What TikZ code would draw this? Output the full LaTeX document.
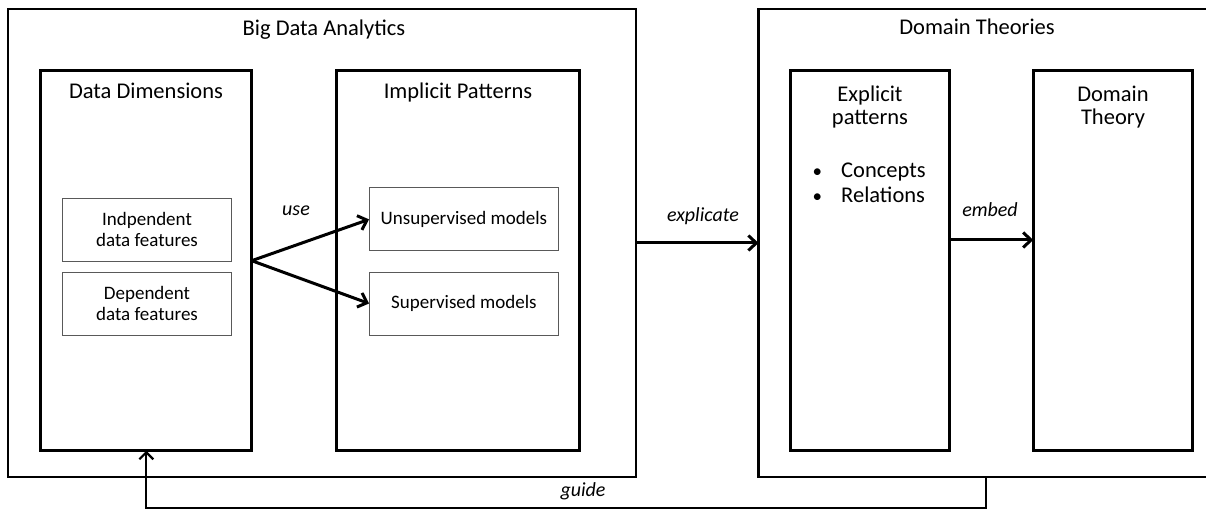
\documentclass[tikz,border=0pt]{standalone}
\usepackage{fontspec}
\setmainfont{Carlito}
\usetikzlibrary{arrows.meta,calc}
\begin{document}
\begin{tikzpicture}[x=1pt,y=-1pt,
  bigbox/.style={draw, line width=2.4pt, inner sep=0pt, outer sep=0pt},
  panel/.style={draw, line width=2.9pt, inner sep=0pt, outer sep=0pt, minimum height=380pt},
  smallbox/.style={draw=black!65, line width=0.9pt, inner sep=0pt, outer sep=0pt,
    minimum width=169.7pt, minimum height=63pt, align=center,
    font=\fontsize{19}{20.5}\selectfont},
  modelbox/.style={smallbox, minimum width=189.7pt},
  title/.style={inner sep=0pt, font=\fontsize{22.5}{25}\selectfont},
  bigtitle/.style={inner sep=0pt, align=center, font=\fontsize{22.5}{23.5}\selectfont},
  lbl/.style={inner sep=0pt, font=\fontsize{20}{22}\selectfont\itshape},
  flow/.style={line width=3pt, -{Straight Barb[length=8pt,width=15pt]}},
  back/.style={line width=2.2pt, -{Straight Barb[length=7pt,width=14pt]}}
]
\useasboundingbox (0,0) rectangle (1206,510);
\clip (0,0) rectangle (1206,510);
\fill[white] (0,0) rectangle (1206,510);

% outer boxes
\node[bigbox, minimum width=628pt, minimum height=468pt] (bda) at (322,243) {};
\node[bigbox, minimum width=480pt, minimum height=467.7pt, anchor=west] (dt) at (758.5,242.85) {};

% titles
\node[title, anchor=base] (bdat) at (324,36) {Big Data Analytics};
\node[title, anchor=base] (dtt) at (977,35) {Domain Theories};

% inner panels
\node[panel, minimum width=211pt] (dd) at (146.2,260.7) {};
\node[panel, minimum width=242.8pt] (ip) at (458.1,260.7) {};
\node[panel, minimum width=158.7pt] (ep) at (870,260.8) {};
\node[panel, minimum width=159.4pt] (dth) at (1113,260.8) {};

\node[title, anchor=base] (ddt) at (146,99) {Data Dimensions};
\node[title, anchor=base] (ipt) at (458,99) {Implicit Patterns};
\node[bigtitle] (ept) at (870,107) {Explicit\\patterns};
\node[bigtitle] (dtht) at (1113,107) {Domain\\Theory};

% bullets
\node[title, anchor=base west] (cc) at (812.4,177.3) {\makebox[28.6pt][l]{\fontsize{19}{20}\selectfont •}Concepts};
\node[title, anchor=base west] (rr) at (812.4,202.7) {\makebox[28.6pt][l]{\fontsize{19}{20}\selectfont •}Relations};

% small boxes
\node[smallbox] (ind) at (147,229.5) {Indpendent\\data features};
\node[smallbox] (dep) at (147,303.7) {Dependent\\data features};
\node[modelbox] (uns) at (463.9,219.4) {Unsupervised models};
\node[modelbox] (sup) at (463.9,303.5) {Supervised models};

% arrows
\draw[flow] (dd.east) -- (uns.west);
\draw[flow] (dd.east) -- (sup.west);
\node[lbl, anchor=base] (use) at (296,216) {use};

\draw[flow] (bda.east) -- (bda.east -| dt.west);
\node[lbl, anchor=base] (expl) at (703,222) {explicate};

\draw[flow] ([yshift=20.8pt]ep.east) -- ([yshift=20.8pt]ep.east -| dth.west);
\node[lbl, anchor=base] (emb) at (990,216.7) {embed};

\coordinate (g1) at (986,508);
\coordinate (g2) at (146.3,508);
\draw[back] (dt.south -| g1) -- (g1) -- (g2) -- (dd.south -| g2);
\node[lbl, anchor=base] (gd) at (583,496) {guide};
\end{tikzpicture}
\end{document}
